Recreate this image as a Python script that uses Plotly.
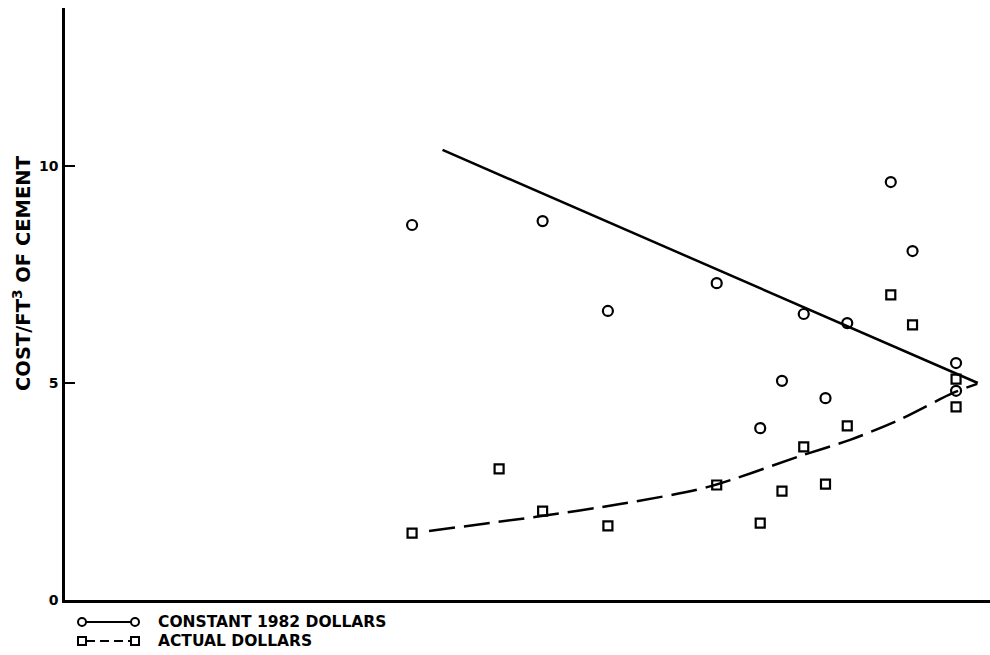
import plotly.graph_objects as go

# ---- data ----
years = [1957, 1961, 1963, 1966, 1971, 1973, 1974, 1975, 1976, 1977, 1979, 1980, 1982, 1982]
constant_1982 = [8.64, 13.66, 8.73, 6.66, 7.30, 3.96, 5.05, 6.59, 4.65, 6.38, 9.63, 8.04, 5.46, 4.82]
actual = [1.54, 3.02, 2.05, 1.71, 2.65, 1.77, 2.51, 3.53, 2.67, 4.01, 7.03, 6.34, 5.09, 4.45]

trend_const_years = [1958.4, 1983.0]
trend_const_vals = [10.37, 5.0]

trend_actual_years = [1957.78, 1963.02, 1966.56, 1970.56, 1974.97, 1977.13, 1979.43, 1981.86, 1982.97]
trend_actual_vals = [1.59, 1.94, 2.21, 2.60, 3.34, 3.69, 4.16, 4.77, 4.98]

y_ticks = [0, 5, 10]
y_tick_labels = ["0", "5", "10"]

legend_labels = ["CONSTANT 1982 DOLLARS", "ACTUAL DOLLARS"]
y_title = "COST/FT<sup>3</sup> OF CEMENT"

FONT = "DejaVu Sans"
W, H = 990, 655
ML, MR, MT, MB = 65, 0, 8, 55
PW, PH = W - ML - MR, H - MT - MB


def px(x):
    return (x - ML) / PW


def py(y):
    return (H - MB - y) / PH


fig = go.Figure()

fig.add_trace(go.Scatter(
    x=trend_const_years, y=trend_const_vals, mode="lines",
    line=dict(color="black", width=2.5), showlegend=False, hoverinfo="skip"))
fig.add_trace(go.Scatter(
    x=trend_actual_years, y=trend_actual_vals, mode="lines",
    line=dict(color="black", width=2.5, dash="26px,9px", shape="spline", smoothing=0.8),
    showlegend=False, hoverinfo="skip"))
fig.add_trace(go.Scatter(
    x=years, y=constant_1982, mode="markers", name=legend_labels[0],
    marker=dict(symbol="circle-open", size=10, color="black", line=dict(width=2.2)),
    cliponaxis=False, showlegend=False))
fig.add_trace(go.Scatter(
    x=years, y=actual, mode="markers", name=legend_labels[1],
    marker=dict(symbol="square-open", size=9, color="black", line=dict(width=2.2)),
    cliponaxis=False, showlegend=False))

# ---- custom legend (below the plot, left) ----
shapes = []
annotations = []
rows = [(622, "solid", "circle"), (641, "dash", "square")]
for (ypix, dash, sym), label in zip(rows, legend_labels):
    yp = py(ypix)
    shapes.append(dict(type="line", xref="paper", yref="paper",
                       x0=px(86), x1=px(131), y0=yp, y1=yp,
                       line=dict(color="black", width=2.2,
                                 dash="solid" if dash == "solid" else "9px,5px")))
    for cx in (82, 135):
        shapes.append(dict(type="circle" if sym == "circle" else "rect",
                           xref="paper", yref="paper",
                           xsizemode="pixel", ysizemode="pixel",
                           xanchor=px(cx), yanchor=yp,
                           x0=-4, x1=4, y0=-4, y1=4,
                           line=dict(color="black", width=2), fillcolor="white"))
    annotations.append(dict(text=label, xref="paper", yref="paper",
                            x=px(156), y=yp, xanchor="left", yanchor="middle",
                            showarrow=False,
                            font=dict(family=FONT, size=15.5, color="black", weight="bold")))

annotations.append(dict(text=y_title, xref="paper", yref="paper",
                        x=px(22), y=py(273), xanchor="center", yanchor="middle",
                        textangle=-90, showarrow=False,
                        font=dict(family=FONT, size=19.5, color="black", weight="bold")))

fig.update_layout(
    width=W, height=H,
    margin=dict(l=ML, r=MR, t=MT, b=MB),
    paper_bgcolor="white", plot_bgcolor="white",
    showlegend=False,
    shapes=shapes, annotations=annotations,
    font=dict(family=FONT, color="black"),
)
fig.update_xaxes(range=[1941.05, 1983.56], showgrid=False, zeroline=False,
                 showline=True, linecolor="black", linewidth=2.5,
                 showticklabels=False, ticks="")
fig.update_yaxes(range=[0, 13.64], showgrid=False, zeroline=False,
                 showline=True, linecolor="black", linewidth=2.5,
                 tickvals=y_ticks, ticktext=y_tick_labels,
                 ticks="inside", ticklen=10, tickwidth=2, tickcolor="black",
                 ticklabelstandoff=1,
                 tickfont=dict(family=FONT, size=14, color="black", weight="bold"))

fig.write_html("out.html", config={"displayModeBar": False},
               post_script="document.body.style.margin='0';document.body.style.overflow='hidden';")
